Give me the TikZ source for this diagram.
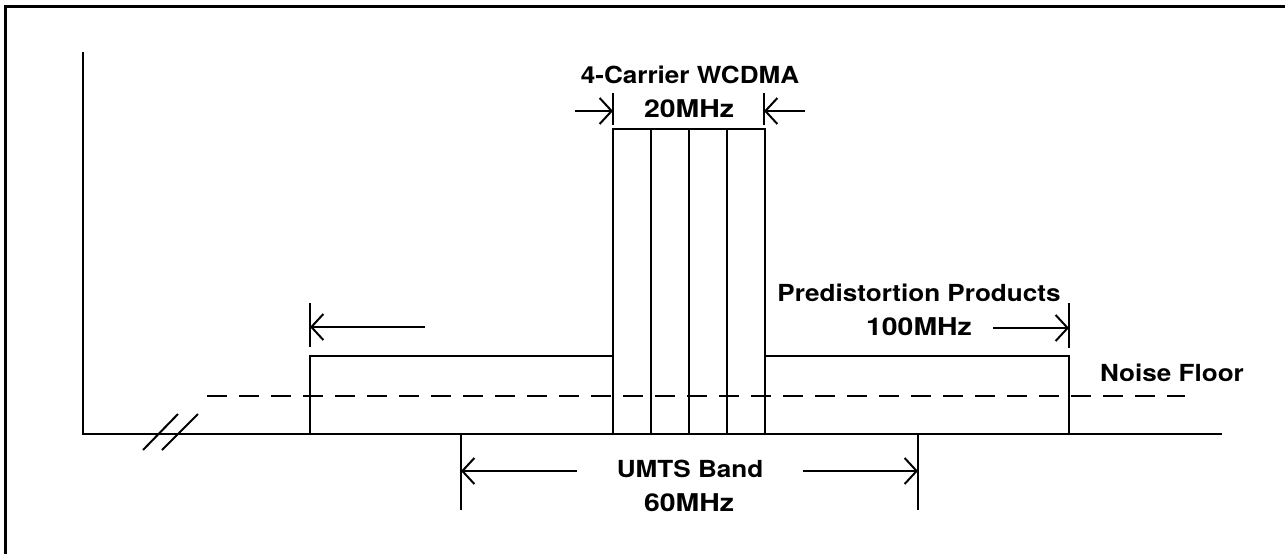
\documentclass[tikz,border=0pt]{standalone}
\usepackage{fontspec}
\usepackage{graphicx}
\setmainfont{TeX Gyre Heros}
\usetikzlibrary{arrows.meta}
\newcommand{\wtxt}[1]{\scalebox{1.11}[1]{#1}}
\newcommand{\wnum}[1]{\scalebox{1.16}[1]{#1}}
\begin{document}
\begin{tikzpicture}[x=1pt,y=-1pt,line width=2pt,
  lbl/.style={font=\fontsize{23.5}{27}\selectfont\bfseries,inner sep=0pt,text=black},
  numlbl/.style={font=\fontsize{24.5}{28}\selectfont\bfseries,inner sep=0pt,text=black},
  dimarrow/.style={-{Straight Barb[length=12pt,width=26pt,line width=2pt]}},
  framestyle/.style={line width=3pt},
  noise/.style={dash pattern=on 20pt off 12pt}]
\useasboundingbox (0,0) rectangle (1285,554);
% frame
\draw[framestyle] (5,554) -- (5,6) -- (1285,6);
% axes
\coordinate (ytop) at (83,52);
\coordinate (orig) at (83,434);
\coordinate (xend) at (1222,434);
\draw (ytop) -- (orig) -- (xend);
% axis break
\draw (143,450) -- (178,414);
\draw (162,450) -- (198,414);
% noise floor
\coordinate (nfl) at (207,396);
\coordinate (nfr) at (1185,396);
\draw[noise] (nfl) -- (nfr);
% predistortion products
\coordinate (pl0) at (310,434);
\coordinate (pl1) at (310,356);
\coordinate (cl1) at (613,356);
\coordinate (cr1) at (765,356);
\coordinate (pr1) at (1069,356);
\coordinate (pr0) at (1069,434);
\draw (pl0) -- (pl1) -- (cl1);
\draw (cr1) -- (pr1) -- (pr0);
% carriers
\draw (613,434) rectangle (765,129);
\foreach \xx in {651,689,727} \draw (\xx,434) -- (\xx,129);
% dimension ticks
\draw (310,303) -- (310,347);
\draw (1069,303) -- (1069,348);
\draw (613,93) -- (613,125);
\draw (764,93) -- (764,125);
\draw (461,434) -- (461,510);
\draw (918,434) -- (918,510);
% arrows
\coordinate (a1s) at (425,327); \coordinate (a1e) at (310,327);
\coordinate (a2s) at (993,328); \coordinate (a2e) at (1069,328);
\coordinate (a3s) at (575,111); \coordinate (a3e) at (613,111);
\coordinate (a4s) at (805,111); \coordinate (a4e) at (764,111);
\coordinate (a5s) at (577,471); \coordinate (a5e) at (461,471);
\coordinate (a6s) at (803,471); \coordinate (a6e) at (918,471);
\draw[dimarrow] (a1s) -- (a1e);
\draw[dimarrow] (a2s) -- (a2e);
\draw[dimarrow] (a3s) -- (a3e);
\draw[dimarrow] (a4s) -- (a4e);
\draw[dimarrow] (a5s) -- (a5e);
\draw[dimarrow] (a6s) -- (a6e);
% labels
\node[lbl] (t1) at (690,75) {\wtxt{4-Carrier WCDMA}};
\node[numlbl] (t2) at (689,109) {\wnum{20MHz}};
\node[lbl] (t3) at (919,293) {\wtxt{Predistortion Products}};
\node[numlbl] (t4) at (919,327) {\wnum{100MHz}};
\node[lbl] (t5) at (1172,373) {\wtxt{Noise Floor}};
\node[lbl] (t6) at (690,469) {\wtxt{UMTS Band}};
\node[numlbl] (t7) at (689,503) {\wnum{60MHz}};
\end{tikzpicture}
\end{document}
